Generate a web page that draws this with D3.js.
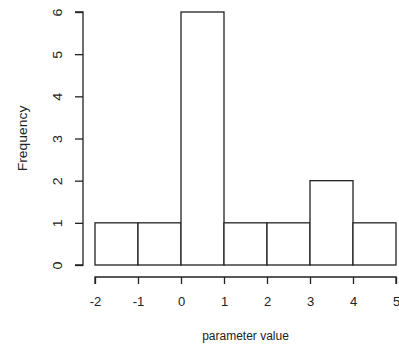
<!DOCTYPE html>
<html>
<head>
<meta charset="utf-8">
<script src="https://cdn.jsdelivr.net/npm/d3@7"></script>
<style>
  html, body { margin: 0; padding: 0; background: #fff; }
  svg { display: block; }
  text { font-family: "Liberation Sans", Arial, sans-serif; fill: #222; }
</style>
</head>
<body>
<svg id="chart" width="399" height="344"></svg>
<script>
// Histogram bins (left edge, right edge) and counts
const binStarts = [-2, -1, 0, 1, 2, 3, 4];
const binEnds   = [-1, 0, 1, 2, 3, 4, 5];
const counts    = [1, 1, 6, 1, 1, 2, 1];
const xTicks    = [-2, -1, 0, 1, 2, 3, 4, 5];
const yTicks    = [0, 1, 2, 3, 4, 5, 6];
const xTitle    = "parameter value";
const yTitle    = "Frequency";

const FONT = "Liberation Sans, Arial, sans-serif";
const svg = d3.select("#chart");

const x = d3.scaleLinear().domain([-2, 5]).range([95, 396]);
const y = d3.scaleLinear().domain([0, 6]).range([265, 12]);

const bins = binStarts.map((s, i) => ({ x0: s, x1: binEnds[i], n: counts[i] }));

// Bars
svg.append("g")
  .selectAll("rect")
  .data(bins)
  .join("rect")
  .attr("x", d => x(d.x0))
  .attr("y", d => y(d.n))
  .attr("width", d => x(d.x1) - x(d.x0))
  .attr("height", d => y(0) - y(d.n))
  .attr("fill", "#fff")
  .attr("stroke", "#222")
  .attr("stroke-width", 1.3);

// Plain hyphen for negatives
const fmt = d => String(d);

// X axis, offset below the bars
const xAxis = svg.append("g")
  .attr("transform", "translate(0,277)")
  .call(d3.axisBottom(x).tickValues(xTicks).tickSize(7).tickPadding(13).tickFormat(fmt));
xAxis.selectAll("path, line").attr("stroke", "#222").attr("stroke-width", 1.3);
xAxis.select(".domain").attr("d", `M${x(-2)},7V0H${x(5)}V7`);
xAxis.selectAll("text").attr("font-size", 13).attr("font-family", FONT).attr("fill", "#222");

// Y axis, offset left of the bars, with rotated labels
const yAxis = svg.append("g")
  .attr("transform", "translate(83,0)")
  .call(d3.axisLeft(y).tickValues(yTicks).tickSize(8).tickFormat(fmt));
yAxis.selectAll("path, line").attr("stroke", "#222").attr("stroke-width", 1.3);
yAxis.select(".domain").attr("d", `M-8,${y(0)}H0V${y(6)}H-8`);
yAxis.selectAll("text")
  .attr("font-size", 13)
  .attr("font-family", FONT)
  .attr("fill", "#222")
  .attr("x", 0)
  .attr("y", 0)
  .attr("dy", "0.35em")
  .attr("text-anchor", "middle")
  .attr("transform", "translate(-25.5,0) rotate(-90) scale(1.1,1)");

// Axis titles
svg.append("text")
  .attr("x", x(1.5)).attr("y", 340)
  .attr("text-anchor", "middle")
  .attr("font-size", 12)
  .text(xTitle);

svg.append("text")
  .attr("transform", `translate(27,${y(3)}) rotate(-90) scale(1.16,1)`)
  .attr("text-anchor", "middle")
  .attr("font-size", 12)
  .text(yTitle);
</script>
</body>
</html>
